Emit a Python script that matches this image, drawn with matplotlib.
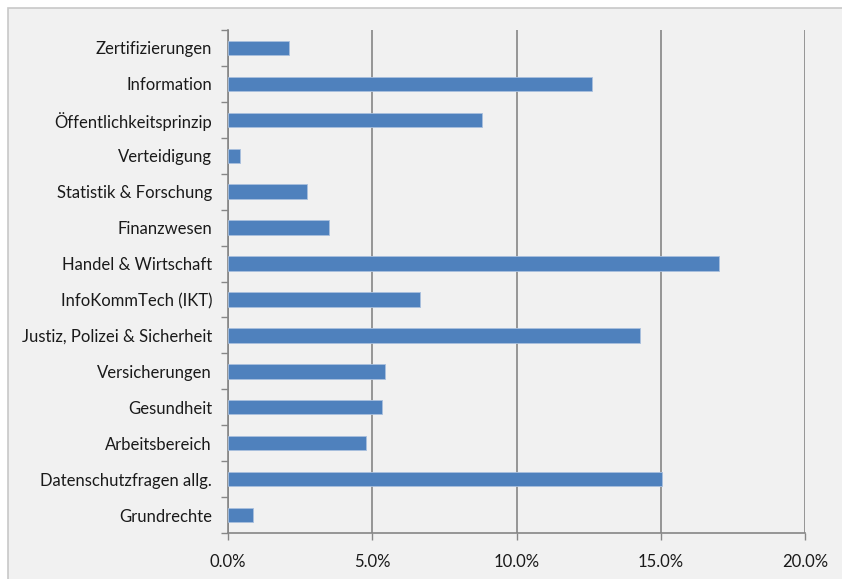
import matplotlib.pyplot as plt
import matplotlib.patches as mpatches
from matplotlib.ticker import FuncFormatter, FixedLocator

# Anteile je Themenbereich (von unten nach oben)
bereiche = ["Grundrechte", "Datenschutzfragen allg.", "Arbeitsbereich", "Gesundheit",
            "Versicherungen", "Justiz, Polizei & Sicherheit", "InfoKommTech (IKT)",
            "Handel & Wirtschaft", "Finanzwesen", "Statistik & Forschung",
            "Verteidigung", "Öffentlichkeitsprinzip", "Information", "Zertifizierungen"]
anteile = [0.87, 15.05, 4.78, 5.33, 5.43, 14.27, 6.66, 17.03, 3.5, 2.73, 0.42, 8.8, 12.6, 2.11]
x_ticks = [0, 5, 10, 15, 20]

plt.rcParams['font.family'] = ['Lato', 'DejaVu Sans']

fig = plt.figure(figsize=(8.42, 5.79), dpi=100)
fig.patch.set_facecolor('white')
# grauer Diagrammbereich mit Rahmen oben/links
rahmen = mpatches.Rectangle((8/842, -0.01), 1.0, 1 - 8/579 + 0.01,
                            transform=fig.transFigure, facecolor='#f1f1f1',
                            edgecolor='#c8c8c8', linewidth=1.2, zorder=-1)
fig.add_artist(rahmen)

ax = fig.add_axes([228/842, 1 - 533/579, (805 - 228)/842, (533 - 30)/579])
ax.set_zorder(1)
ax.patch.set_alpha(0)

y = range(len(bereiche))
ax.barh(y, anteile, height=0.4, color='#4f81bd', edgecolor='#a9c0de', linewidth=0.6, zorder=3)

ax.set_xlim(0, 20)
ax.set_ylim(-0.5, len(bereiche) - 0.5)
ax.xaxis.set_major_locator(FixedLocator(x_ticks))
ax.xaxis.set_major_formatter(FuncFormatter(lambda v, p: f"{v:.1f}%"))
ax.set_yticks(list(y))
ax.set_yticklabels(bereiche)
ax.set_yticks([i - 0.5 for i in range(len(bereiche) + 1)], minor=True)
ax.tick_params(axis='y', which='major', length=0, pad=11.5, labelsize=12, labelcolor='#1a1a1a')
ax.tick_params(axis='y', which='minor', length=5, width=1, color='#868686')
ax.tick_params(axis='x', length=5, width=1, color='#868686', pad=10, labelsize=12, labelcolor='#1a1a1a')

ax.grid(axis='x', color='#868686', linewidth=1.2, zorder=1)
for s in ['top', 'right']:
    ax.spines[s].set_visible(False)
for s in ['left', 'bottom']:
    ax.spines[s].set_color('#868686')
    ax.spines[s].set_linewidth(1.2)

fig.savefig('out.png', dpi=100)
